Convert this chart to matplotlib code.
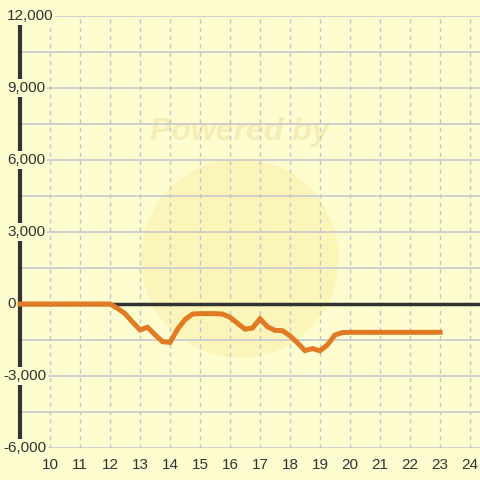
import matplotlib
matplotlib.use("Agg")
import matplotlib.pyplot as plt
from matplotlib.patches import Ellipse

# data
hours = [9, 12, 12.25, 12.5, 12.75, 13, 13.25, 13.5, 13.75, 14, 14.25, 14.5, 14.75,
         15, 15.5, 15.75, 16, 16.25, 16.5, 16.75, 17, 17.25, 17.5, 17.75, 18,
         18.25, 18.5, 18.75, 19, 19.25, 19.5, 19.75, 20, 23]
values = [0, 0, -180, -400, -750, -1080, -970, -1280, -1570, -1600, -1050, -650, -420,
          -400, -400, -420, -550, -800, -1050, -1000, -620, -950, -1100, -1110, -1330,
          -1620, -1940, -1860, -1950, -1700, -1290, -1190, -1180, -1180]
y_ticks = [-6000, -3000, 0, 3000, 6000, 9000, 12000]
y_tick_labels = ["-6,000", "-3,000", "0", "3,000", "6,000", "9,000", "12,000"]
x_ticks = list(range(10, 25))

bg = "#fdfdd0"
dark = "#333333"

fig = plt.figure(figsize=(4.8, 4.8), dpi=100, facecolor=bg)
ax = fig.add_axes([0, 32 / 480, 1, 432 / 480])
ax.set_facecolor(bg)
x_left = 9 - 20 / 30.0
x_right = x_left + 480 / 30.0
ax.set_xlim(x_left, x_right)
ax.set_ylim(-6000, 12000)
for s in ax.spines.values():
    s.set_visible(False)
ax.set_xticks([])
ax.set_yticks([])

## faint watermark
ax.add_patch(Ellipse((16.33, 1900), 6.6, 8300, facecolor="#fbf4b4", edgecolor="none", alpha=0.8, zorder=0))
ax.text(16.33, 7150, "Powered by", ha="center", va="center", fontsize=23, fontweight="bold",
        fontstyle="italic", color="#f5ecb6", family="Liberation Sans", zorder=0.5)

## grid
for yv in range(-6000, 12001, 1500):
    ax.hlines(yv, 9, x_right, color="#c8c8cf", lw=1.2, zorder=1)
for xv in x_ticks:
    ax.vlines(xv, -6000, 12000, color="#c4c4cc", lw=1.0, linestyles=(0, (3, 3)), zorder=1)

## axis lines
ax.axvline(9, color=dark, lw=3, zorder=2)
ax.hlines(0, 9, x_right, color=dark, lw=2.5, zorder=2)

ax.plot(hours, values, color="#e07b24", lw=3.6, solid_joinstyle="miter", zorder=3)

## tick labels
for yv, lab in zip(y_ticks, y_tick_labels):
    xpos = x_left + (3 if lab.startswith("-") else 7) / 30.0
    ax.text(xpos, yv, lab, ha="left", va="center", fontsize=11, color=dark,
            family="Liberation Sans", zorder=4,
            bbox=dict(boxstyle="square,pad=0.1", facecolor=bg, edgecolor="none"))
for xv in x_ticks:
    ax.text(xv, -6000 - 17 * 3000 / 72, str(xv), ha="center", va="center", fontsize=11,
            color=dark, family="Liberation Sans", clip_on=False, zorder=4)

fig.savefig("out.png", dpi=100, facecolor=bg)
